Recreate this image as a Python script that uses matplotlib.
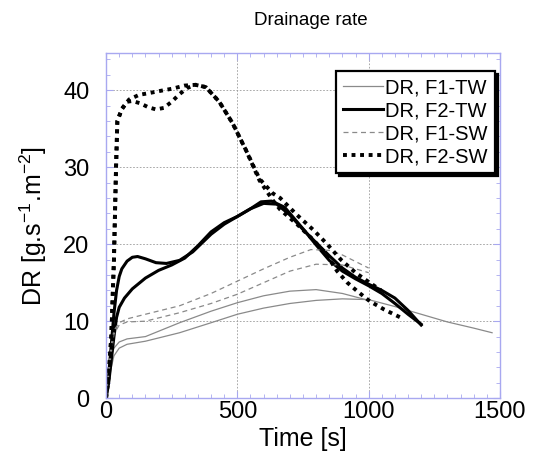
import matplotlib
matplotlib.use("Agg")
import matplotlib.pyplot as plt
from matplotlib.ticker import MultipleLocator

plt.rcParams['font.family'] = ['Liberation Sans', 'DejaVu Sans']
plt.rcParams['mathtext.fontset'] = 'custom'
plt.rcParams['mathtext.rm'] = 'Liberation Sans'
plt.rcParams['mathtext.it'] = 'Liberation Sans:italic'
plt.rcParams['mathtext.bf'] = 'Liberation Sans:bold'

# ---------------- data ----------------
t_f1tw_a = [0, 10, 20, 30, 50, 80, 150, 280, 400, 500, 600, 700, 800, 900, 1000]
v_f1tw_a = [0, 3.5, 5.5, 6.5, 7.3, 7.7, 8.0, 9.8, 11.3, 12.4, 13.3, 13.9, 14.1, 13.6, 12.7]
t_f1tw_b = [0, 10, 20, 30, 50, 80, 150, 280, 400, 500, 600, 700, 800, 900, 1000,
            1100, 1200, 1300, 1400, 1470]
v_f1tw_b = [0, 2, 4, 5.5, 6.5, 7.0, 7.4, 8.5, 9.8, 10.9, 11.7, 12.3, 12.7, 12.9, 12.8,
            11.9, 10.9, 9.9, 9.1, 8.5]

t_f2tw_a = [0, 10, 20, 30, 40, 50, 60, 80, 100, 120, 150, 190, 230, 280, 330, 400, 450,
            500, 550, 590, 630, 680, 750, 800, 850, 900, 950, 1000, 1050, 1100, 1150, 1200]
v_f2tw_a = [0, 3, 7, 11, 14, 15.8, 16.8, 17.8, 18.3, 18.4, 18.1, 17.6, 17.5, 17.9, 19.0,
            21.3, 22.6, 23.6, 24.6, 25.5, 25.6, 24.8, 22.0, 19.9, 17.9, 16.5, 15.5, 14.6,
            13.6, 12.3, 10.9, 9.6]
t_f2tw_b = [0, 10, 20, 30, 40, 50, 70, 100, 150, 200, 250, 300, 350, 400, 450, 500, 550,
            600, 650, 700, 750, 800, 850, 900, 950, 1000, 1050, 1100, 1150, 1200]
v_f2tw_b = [0, 2, 5, 8, 10.5, 11.8, 13.0, 14.2, 15.6, 16.6, 17.3, 18.2, 19.8, 21.6, 22.8,
            23.6, 24.6, 25.3, 25.2, 23.8, 21.9, 20.2, 18.5, 16.9, 15.7, 14.8, 14.0, 13.0,
            11.4, 9.5]

t_f1sw_a = [0, 10, 20, 30, 50, 80, 150, 280, 400, 500, 600, 700, 780, 850, 900, 1000]
v_f1sw_a = [0, 4, 7, 8.8, 9.8, 10.3, 10.9, 12.0, 13.6, 15.2, 16.8, 18.3, 19.3, 19.2,
            18.6, 16.9]
t_f1sw_b = [0, 10, 20, 30, 50, 80, 150, 280, 400, 500, 600, 700, 800, 900, 1000]
v_f1sw_b = [0, 3, 6, 8.3, 9.5, 9.9, 10.0, 11.1, 12.3, 13.5, 15.0, 16.5, 17.4, 17.3, 16.3]

t_f2sw_a = [0, 10, 20, 30, 38, 43, 60, 88, 126, 160, 190, 220, 253, 298, 342, 380, 431,
            482, 533, 584, 635, 663, 727, 791, 842, 880, 919, 960, 1004, 1060, 1120]
v_f2sw_a = [0, 3, 8, 18, 30, 36, 37.6, 38.8, 39.4, 39.6, 39.8, 40.0, 40.2, 40.6, 40.7,
            40.4, 38.5, 35.7, 32.2, 28.3, 25.7, 24.5, 22.6, 20.5, 18.5, 16.5, 15.0, 13.8,
            12.6, 11.5, 10.5]
t_f2sw_b = [0, 10, 20, 30, 38, 43, 60, 80, 100, 130, 160, 190, 220, 250, 280, 310, 340,
            380, 431, 482, 533, 584, 635, 663, 727, 791, 842, 894, 950, 1004, 1047]
v_f2sw_b = [0, 3, 8, 18, 30, 36, 37.5, 38.5, 38.6, 38.3, 37.8, 37.5, 37.7, 38.5, 39.5,
            40.3, 40.7, 40.4, 38.5, 35.7, 32.2, 28.5, 26.6, 26.0, 23.8, 21.8, 20.0, 18.0,
            16.3, 15.0, 14.0]

labels = ["DR, F1-TW", "DR, F2-TW", "DR, F1-SW", "DR, F2-SW"]
x_ticks = [0, 500, 1000, 1500]
y_ticks = [0, 10, 20, 30, 40]

# ---------------- figure ----------------
fig = plt.figure(figsize=(5.33, 4.63), dpi=100)
ax = fig.add_axes([0.199, 0.140, 0.739, 0.745])

spine_c = '#a8a8f0'
thin_c = '#8a8a8a'

ax.plot(t_f1tw_a, v_f1tw_a, color=thin_c, lw=0.9, label=labels[0])
ax.plot(t_f1tw_b, v_f1tw_b, color=thin_c, lw=0.9)
ax.plot(t_f2tw_a, v_f2tw_a, color='black', lw=2.2, label=labels[1])
ax.plot(t_f2tw_b, v_f2tw_b, color='black', lw=2.2)
ax.plot(t_f1sw_a, v_f1sw_a, color=thin_c, lw=0.9, ls=(0, (4, 3)), label=labels[2])
ax.plot(t_f1sw_b, v_f1sw_b, color=thin_c, lw=0.9, ls=(0, (4, 3)))
ax.plot(t_f2sw_a, v_f2sw_a, color='black', lw=2.8, ls=(0, (1, 1.2)), label=labels[3])
ax.plot(t_f2sw_b, v_f2sw_b, color='black', lw=2.8, ls=(0, (1, 1.2)))

ax.set_xlim(0, 1500)
ax.set_ylim(0, 44.8)
ax.set_xticks(x_ticks)
ax.set_yticks(y_ticks)
ax.xaxis.set_minor_locator(MultipleLocator(50))
ax.yaxis.set_minor_locator(MultipleLocator(2))
ax.tick_params(which='both', direction='in', top=True, right=True, color=spine_c,
               labelsize=17)
ax.tick_params(which='major', length=5)
ax.tick_params(which='minor', length=3)
ax.tick_params(axis='x', pad=2)
ax.tick_params(axis='y', pad=12)
for s in ax.spines.values():
    s.set_color(spine_c)
    s.set_linewidth(1.0)
ax.grid(True, which='major', color='#9a9a9a', ls=(0, (2, 2)), lw=0.6)

ax.set_xlabel("Time [s]", fontsize=18, labelpad=3)
ax.set_ylabel("DR [g.s$^{-1}$.m$^{-2}$]", fontsize=18, labelpad=10)
ax.set_title("Drainage rate", fontsize=13.5, pad=20, x=0.52)

leg = ax.legend(loc='upper right', bbox_to_anchor=(0.987, 0.948), borderaxespad=0,
                fontsize=14.5, frameon=True, fancybox=False,
                shadow={'color': 'black', 'alpha': 1.0},
                edgecolor='black', handlelength=2.0, handletextpad=0.1,
                labelspacing=0.2, borderpad=0.35, markerfirst=True)
leg.get_frame().set_linewidth(1.6)
leg.get_frame().set_alpha(1.0)

fig.savefig("out.png", dpi=100)
